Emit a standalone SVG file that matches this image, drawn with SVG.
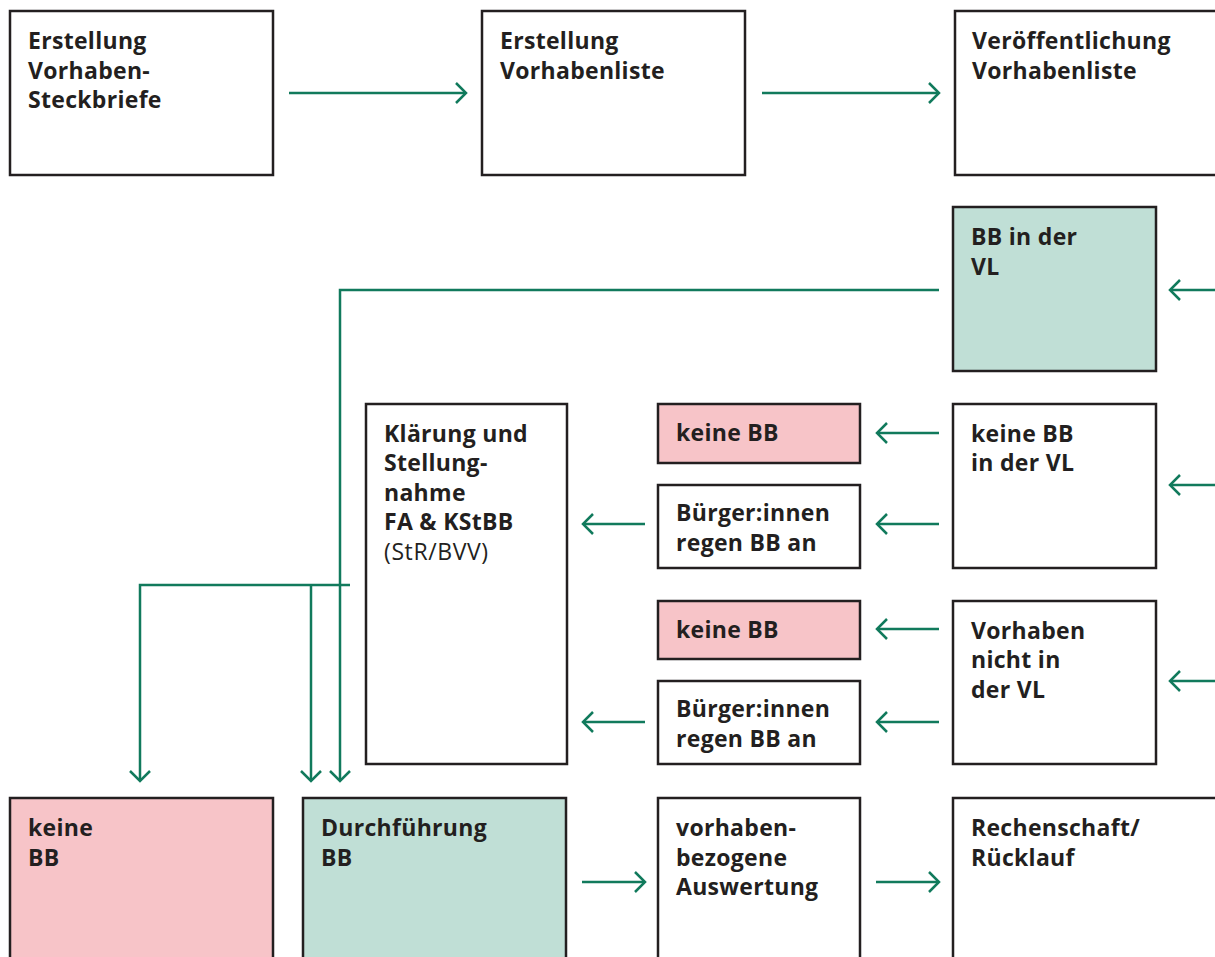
<svg xmlns="http://www.w3.org/2000/svg" width="1215" height="957" viewBox="0 0 1215 957">
<style>
.box{fill:#ffffff;stroke:#231f20;stroke-width:2.5}
.green{fill:#c0dfd6}
.pink{fill:#f7c4c8}
.t{font-family:"Open Sans","Noto Sans",sans-serif;font-weight:700;font-size:23px;fill:#231f20;letter-spacing:0.3px}
.r{font-weight:400;letter-spacing:0.6px}
.c{fill:none;stroke:#117a5c;stroke-width:2.5}
</style>
<defs>
<marker id="ah" markerUnits="userSpaceOnUse" markerWidth="24" markerHeight="24" viewBox="-12 -12 24 24" refX="0" refY="0" orient="auto">
<path d="M-10,-10 L0,0 L-10,10" fill="none" stroke="#117a5c" stroke-width="2.5"/>
</marker>
</defs>
<rect width="1215" height="957" fill="#ffffff"/>

<g id="n1"><rect class="box" x="10" y="11" width="263" height="164"/>
<text class="t" x="28" y="49">Erstellung</text><text class="t" x="28" y="79">Vorhaben-</text><text class="t" x="28" y="108">Steckbriefe</text></g>
<g id="n2"><rect class="box" x="482" y="11" width="263" height="164"/>
<text class="t" x="500" y="49">Erstellung</text><text class="t" x="500" y="79">Vorhabenliste</text></g>
<g id="n3"><rect class="box" x="955" y="11" width="275" height="164"/>
<text class="t" x="972" y="49">Veröffentlichung</text><text class="t" x="972" y="79">Vorhabenliste</text></g>

<g id="n4"><rect class="box green" x="953" y="207" width="203" height="164"/>
<text class="t" x="971" y="245">BB in der</text><text class="t" x="971" y="275">VL</text></g>

<g id="n5"><rect class="box" x="366" y="404" width="201" height="360"/>
<text class="t" x="384" y="442">Klärung und</text><text class="t" x="384" y="471">Stellung-</text><text class="t" x="384" y="501">nahme</text><text class="t" x="384" y="530">FA &amp; KStBB</text><text class="t r" x="384" y="560">(StR/BVV)</text></g>

<g id="n6"><rect class="box pink" x="658" y="404" width="202" height="59"/>
<text class="t" x="676" y="441">keine BB</text></g>
<g id="n7"><rect class="box" x="658" y="485" width="202" height="83"/>
<text class="t" x="676" y="521">Bürger:innen</text><text class="t" x="676" y="551">regen BB an</text></g>
<g id="n8"><rect class="box" x="953" y="404" width="203" height="164"/>
<text class="t" x="971" y="442">keine BB</text><text class="t" x="971" y="471">in der VL</text></g>

<g id="n9"><rect class="box pink" x="658" y="601" width="202" height="58"/>
<text class="t" x="676" y="638">keine BB</text></g>
<g id="n10"><rect class="box" x="658" y="681" width="202" height="83"/>
<text class="t" x="676" y="717">Bürger:innen</text><text class="t" x="676" y="747">regen BB an</text></g>
<g id="n11"><rect class="box" x="953" y="601" width="203" height="163"/>
<text class="t" x="971" y="639">Vorhaben</text><text class="t" x="971" y="668">nicht in</text><text class="t" x="971" y="698">der VL</text></g>

<g id="n12"><rect class="box pink" x="10" y="798" width="263" height="175"/>
<text class="t" x="28" y="836">keine</text><text class="t" x="28" y="866">BB</text></g>
<g id="n13"><rect class="box green" x="303" y="798" width="263" height="175"/>
<text class="t" x="321" y="836">Durchführung</text><text class="t" x="321" y="866">BB</text></g>
<g id="n14"><rect class="box" x="658" y="798" width="202" height="175"/>
<text class="t" x="676" y="836">vorhaben-</text><text class="t" x="676" y="866">bezogene</text><text class="t" x="676" y="895">Auswertung</text></g>
<g id="n15"><rect class="box" x="953" y="798" width="275" height="175"/>
<text class="t" x="971" y="836">Rechenschaft/</text><text class="t" x="971" y="866">Rücklauf</text></g>

<g id="connectors">
<path class="c" d="M289,93 H466" marker-end="url(#ah)"/>
<path class="c" d="M762,93 H939" marker-end="url(#ah)"/>
<path class="c" d="M1216,290 H1170" marker-end="url(#ah)"/>
<path class="c" d="M1216,485 H1170" marker-end="url(#ah)"/>
<path class="c" d="M1216,681 H1170" marker-end="url(#ah)"/>
<path class="c" d="M939,290 H340 V781" marker-end="url(#ah)"/>
<path class="c" d="M939,433 H877" marker-end="url(#ah)"/>
<path class="c" d="M939,524 H877" marker-end="url(#ah)"/>
<path class="c" d="M645,524 H583" marker-end="url(#ah)"/>
<path class="c" d="M939,629 H877" marker-end="url(#ah)"/>
<path class="c" d="M939,722 H877" marker-end="url(#ah)"/>
<path class="c" d="M645,722 H583" marker-end="url(#ah)"/>
<path class="c" d="M350,585 H140 V781" marker-end="url(#ah)"/>
<path class="c" d="M311,585 V781" marker-end="url(#ah)"/>
<path class="c" d="M582,882 H645" marker-end="url(#ah)"/>
<path class="c" d="M876,882 H939" marker-end="url(#ah)"/>
</g>
</svg>
